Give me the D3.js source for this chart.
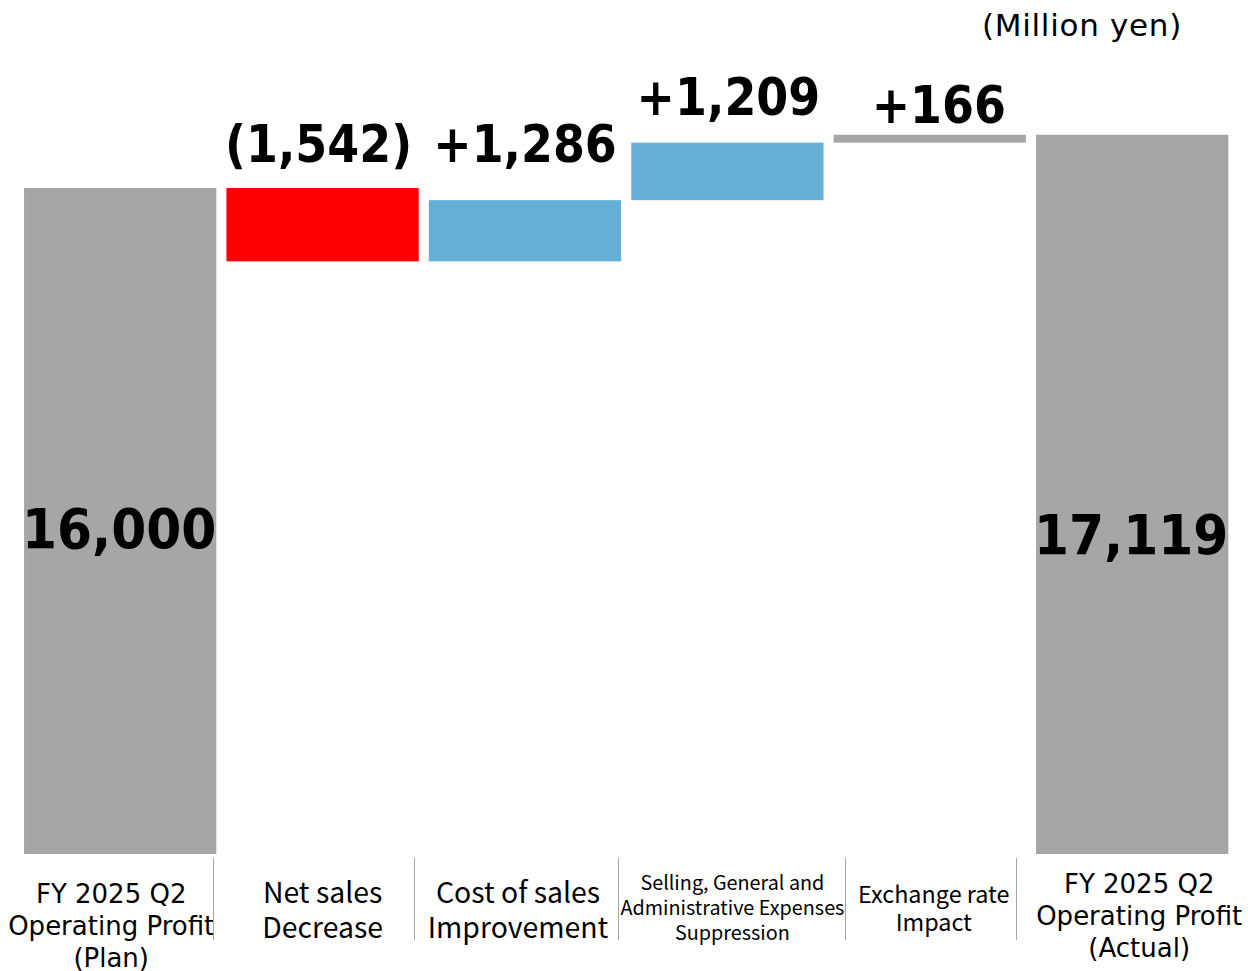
<!DOCTYPE html>
<html lang="en">
<head>
    <meta charset="utf-8">
    <title>Operating profit bridge</title>
    <script src="https://d3js.org/d3.v7.min.js"></script>
    <style>
        body { margin: 0; background: #fff; }
    </style>
</head>
<body>
<svg width="1248" height="971"></svg>
<script>
    // data
    var categories = [
        ["FY 2025 Q2", "Operating Profit", "(Plan)"],
        ["Net sales", "Decrease"],
        ["Cost of sales", "Improvement"],
        ["Selling, General and", "Administrative Expenses", "Suppression"],
        ["Exchange rate", "Impact"],
        ["FY 2025 Q2", "Operating Profit", "(Actual)"]
    ];
    var values = [16000, -1542, 1286, 1209, 166, 17119];
    var kinds = ["total", "delta", "delta", "delta", "delta", "total"];
    var unitLabel = "(Million yen)";

    // styles / layout
    var barColors = ["#a6a6a6", "#ff0000", "#65afd6", "#65afd6", "#a6a6a6", "#a6a6a6"];
    var valueDx = [-1, -4, 0, 1, 9, -1];
    var valueDy = [360, -26, -38, -28, -12, 419];   // baseline relative to bar top
    var valueSize = [56, 51, 51, 51, 51, 56];
    var labelDx = [-9, 0, -7, 5, 4, 7];
    var labelTop = [903, 903, 903, 890, 903, 893];
    var labelStep = [32, 35, 35, 25, 28, 32];
    var labelFont = ["DejaVu Sans", "Noto Sans CJK JP", "Noto Sans CJK JP", "Noto Sans CJK JP", "Noto Sans CJK JP", "DejaVu Sans"];
    var labelSize = [26, 28.4, 28.4, 19.8, 23.4, 26];
    var dividers = [213, 414, 618, 845, 1016];

    var svg = d3.select("svg");

    var xScale = d3.scaleBand()
        .domain(d3.range(values.length))
        .range([19, 1233.4])
        .paddingInner(0.05)
        .paddingOuter(0.025);

    var yScale = d3.scaleLinear()
        .domain([2000, 20000])
        .range([854, -2.3]);

    // running totals for the waterfall
    var running = 0;
    var bars = values.map(function(v, i) {
        var lo, hi;
        if (kinds[i] == "total") {
            lo = yScale.domain()[0]; hi = v; running = v;
        } else {
            var next = running + v;
            lo = Math.min(running, next); hi = Math.max(running, next);
            running = next;
        }
        return {i: i, v: v, lo: lo, hi: hi};
    });

    var fmt = d3.format(",");
    function valueText(d) {
        if (kinds[d.i] == "total") return fmt(d.v);
        if (d.v < 0) return "(" + fmt(-d.v) + ")";
        return "+" + fmt(d.v);
    }

    svg.selectAll(".bar")
        .data(bars)
        .enter()
        .append("rect")
        .attr("class", "bar")
        .attr("x", function(d) { return xScale(d.i); })
        .attr("y", function(d) { return yScale(d.hi); })
        .attr("width", xScale.bandwidth())
        .attr("height", function(d) { return yScale(d.lo) - yScale(d.hi); })
        .attr("fill", function(d) { return barColors[d.i]; });

    svg.selectAll(".val")
        .data(bars)
        .enter()
        .append("text")
        .attr("class", "val")
        .attr("x", function(d) { return xScale(d.i) + xScale.bandwidth() / 2 + valueDx[d.i]; })
        .attr("y", function(d) { return yScale(d.hi) + valueDy[d.i]; })
        .attr("text-anchor", "middle")
        .attr("font-family", "'DejaVu Sans Condensed', 'DejaVu Sans', sans-serif")
        .attr("font-weight", "bold")
        .attr("font-size", function(d) { return valueSize[d.i]; })
        .attr("fill", "#000")
        .text(valueText);

    // category labels under the bars
    var cats = svg.selectAll(".cat")
        .data(categories)
        .enter()
        .append("text")
        .attr("class", "cat")
        .attr("text-anchor", "middle")
        .attr("font-family", function(d, i) { return labelFont[i]; })
        .attr("font-size", function(d, i) { return labelSize[i]; })
        .attr("fill", "#000");

    cats.each(function(lines, i) {
        var cx = xScale(i) + xScale.bandwidth() / 2 + labelDx[i];
        d3.select(this).selectAll("tspan")
            .data(lines)
            .enter()
            .append("tspan")
            .attr("x", cx)
            .attr("y", function(d, j) { return labelTop[i] + j * labelStep[i]; })
            .text(function(d) { return d; });
    });

    svg.selectAll(".divider")
        .data(dividers)
        .enter()
        .append("line")
        .attr("x1", function(d) { return d + 0.5; })
        .attr("x2", function(d) { return d + 0.5; })
        .attr("y1", 858)
        .attr("y2", 940)
        .attr("stroke", "#a6a6a6")
        .attr("stroke-width", 1);

    svg.append("text")
        .attr("x", 1082)
        .attr("y", 36)
        .attr("text-anchor", "middle")
        .attr("font-family", "'DejaVu Sans', sans-serif")
        .attr("font-size", 31)
        .attr("letter-spacing", 0.7)
        .attr("fill", "#000")
        .text(unitLabel);
</script>
</body>
</html>
